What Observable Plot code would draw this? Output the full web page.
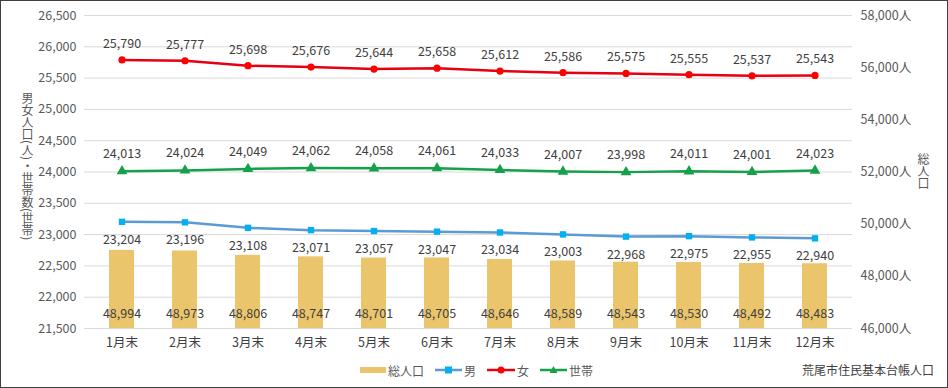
<!DOCTYPE html>
<html>
<head>
<meta charset="utf-8">
<script src="https://cdn.jsdelivr.net/npm/d3@7"></script>
<script src="https://cdn.jsdelivr.net/npm/@observablehq/plot@0.6"></script>
<style>
  html, body { margin: 0; padding: 0; background: #fff; }
  #wrap { position: relative; width: 948px; height: 388px; overflow: hidden; font-family: 'Noto Sans CJK JP', sans-serif; color: #595959; }
  #border { position: absolute; left: 0; top: 0; width: 946px; height: 386px; border: 1px solid #404040; pointer-events: none; }
  .vtitle { position: absolute; writing-mode: vertical-rl; white-space: nowrap; font-size: 12px; color: #595959; line-height: 1; }
  #legend { position: absolute; left: 0; top: 352px; width: 948px; height: 36px; font-size: 12px; color: #595959; }
  .li { position: absolute; top: 9px; display: flex; align-items: center; height: 18px; white-space: nowrap; }
  .li svg { margin-right: 2px; }
  #caption { position: absolute; right: 14px; top: 9px; font-size: 12px; color: #404040; line-height: 18px; white-space: nowrap; }
</style>
</head>
<body>
<div id="wrap">
  <div id="chart"></div>
  <div class="vtitle" style="left:21px; top:92px;">男女人口(人)・世帯数(世帯)</div>
  <div class="vtitle" style="left:917px; top:153px;">総人口</div>
  <div id="legend"></div>
  <div id="border"></div>
</div>
<script>
const months = ["1月末","2月末","3月末","4月末","5月末","6月末","7月末","8月末","9月末","10月末","11月末","12月末"];
const female = [25790,25777,25698,25676,25644,25658,25612,25586,25575,25555,25537,25543];
const households = [24013,24024,24049,24062,24058,24061,24033,24007,23998,24011,24001,24023];
const male = [23204,23196,23108,23071,23057,23047,23034,23003,22968,22975,22955,22940];
const total = [48994,48973,48806,48747,48701,48705,48646,48589,48543,48530,48492,48483];
const leftTicks = [21500,22000,22500,23000,23500,24000,24500,25000,25500,26000,26500];
const rightTicks = [46000,48000,50000,52000,54000,56000,58000];
const legendItems = ["総人口","男","女","世帯"];
const captionText = "荒尾市住民基本台帳人口";

const colors = {
  total: "#EBC56C",
  maleLine: "#5B9BD5",
  maleDot: "#00B0F0",
  female: "#E60012",
  femaleDot: "#FF0000",
  house: "#14A14A"
};

const L0 = leftTicks[0], L1 = leftTicks[leftTicks.length - 1];
const R0 = rightTicks[0], R1 = rightTicks[rightTicks.length - 1];
const toLeft = v => L0 + (v - R0) * (L1 - L0) / (R1 - R0);
const toRight = v => R0 + (v - L0) * (R1 - R0) / (L1 - L0);
const fmt = d3.format(",");

const data = months.map((m, i) => ({
  month: m, female: female[i], households: households[i], male: male[i], total: total[i]
}));

const labelStyle = { fill: "#404040", fontSize: 12.5, stroke: "none" };

const chart = Plot.plot({
  width: 948,
  height: 352,
  marginLeft: 84,
  marginRight: 96,
  marginTop: 15,
  marginBottom: 24,
  style: { fontFamily: "'Noto Sans CJK JP', sans-serif", fontSize: "12.5px", color: "#595959", background: "transparent" },
  x: { domain: months, paddingInner: 0.61, paddingOuter: 0.32, label: null },
  y: { domain: [L0, L1], label: null },
  marks: [
    Plot.gridY(leftTicks, { stroke: "#d9d9d9", strokeOpacity: 1, strokeWidth: 1 }),
    Plot.axisY(leftTicks, { anchor: "left", tickSize: 0, tickPadding: 8, tickFormat: fmt, label: null, fill: "#595959" }),
    Plot.axisY(rightTicks.map(toLeft), { anchor: "right", tickSize: 0, tickPadding: 8, tickFormat: v => fmt(Math.round(toRight(v))) + "人", label: null, fill: "#595959" }),
    Plot.axisX({ tickSize: 0, tickPadding: 10, label: null, fill: "#404040" }),
    Plot.barY(data, { x: "month", y1: () => L0, y2: d => toLeft(d.total), fill: colors.total }),
    Plot.text(data, { x: "month", y: () => L0, dy: -15, text: d => fmt(d.total), ...labelStyle }),
    Plot.line(data, { x: "month", y: "male", stroke: colors.maleLine, strokeWidth: 2.5 }),
    Plot.dot(data, { x: "month", y: "male", symbol: "square", r: 3.6, fill: colors.maleDot, stroke: "none" }),
    Plot.text(data, { x: "month", y: "male", dy: 18, text: d => fmt(d.male), ...labelStyle }),
    Plot.line(data, { x: "month", y: "female", stroke: colors.female, strokeWidth: 2.5 }),
    Plot.dot(data, { x: "month", y: "female", symbol: "circle", r: 3.6, fill: colors.femaleDot, stroke: "none" }),
    Plot.text(data, { x: "month", y: "female", dy: -16, text: d => fmt(d.female), ...labelStyle }),
    Plot.line(data, { x: "month", y: "households", stroke: colors.house, strokeWidth: 2.5 }),
    Plot.dot(data, { x: "month", y: "households", symbol: "triangle", r: 4, fill: colors.house, stroke: "none" }),
    Plot.text(data, { x: "month", y: "households", dy: -17, text: d => fmt(d.households), ...labelStyle })
  ]
});
document.getElementById("chart").appendChild(chart);

// Legend
const legend = document.getElementById("legend");
const sw = {
  "総人口": `<svg width="26" height="10"><rect x="0" y="2" width="26" height="6" fill="${colors.total}"/></svg>`,
  "男": `<svg width="27" height="10"><line x1="0" y1="5" x2="27" y2="5" stroke="${colors.maleLine}" stroke-width="2.5"/><rect x="10" y="1.5" width="7" height="7" fill="${colors.maleDot}"/></svg>`,
  "女": `<svg width="28" height="10"><line x1="0" y1="5" x2="28" y2="5" stroke="${colors.female}" stroke-width="2.5"/><circle cx="14" cy="5" r="3.5" fill="${colors.femaleDot}"/></svg>`,
  "世帯": `<svg width="27" height="10"><line x1="0" y1="5" x2="27" y2="5" stroke="${colors.house}" stroke-width="2.5"/><path d="M13.5,1 L17.5,8 L9.5,8 Z" fill="${colors.house}"/></svg>`
};
const lefts = [360, 435, 487, 540];
legendItems.forEach((name, i) => {
  const d = document.createElement("div");
  d.className = "li";
  d.style.left = lefts[i] + "px";
  d.innerHTML = sw[name] + `<span>${name}</span>`;
  legend.appendChild(d);
});
const cap = document.createElement("div");
cap.id = "caption";
cap.textContent = captionText;
legend.appendChild(cap);
</script>
</body>
</html>
